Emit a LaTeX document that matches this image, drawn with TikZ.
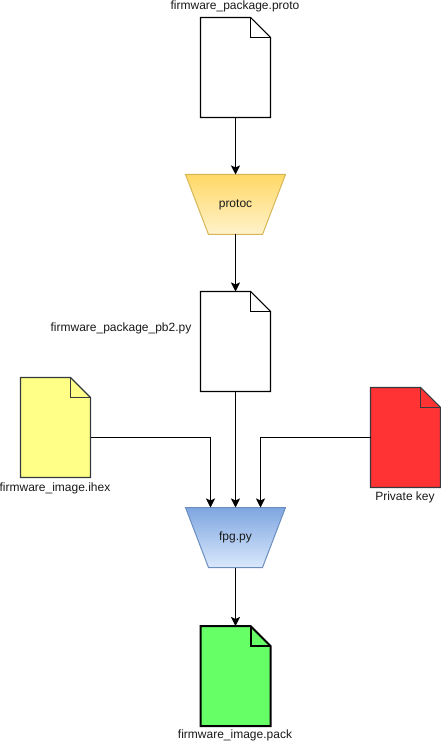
\documentclass[tikz,border=0pt]{standalone}
\usepackage{fontspec}
\setmainfont{Liberation Sans}
\usetikzlibrary{arrows.meta,calc}
\definecolor{inkc}{HTML}{1A1A1A}
\definecolor{ydoc}{HTML}{FFFF88}
\definecolor{ystroke}{HTML}{36393D}
\definecolor{rdoc}{HTML}{FF3333}
\definecolor{gdoc}{HTML}{66FF66}
\definecolor{ptop}{HTML}{FFD966}
\definecolor{pbot}{HTML}{FFF2CC}
\definecolor{pline}{HTML}{D6B656}
\definecolor{btop}{HTML}{7EA6E0}
\definecolor{bbot}{HTML}{DAE8FC}
\definecolor{bline}{HTML}{6C8EBF}
\tikzset{
  px/.style={x=0.75pt,y=-0.75pt},
  docbox/.style={inner sep=0pt,outer sep=0pt,minimum width=52.5pt,minimum height=75pt},
  docline/.style={line width=0.75pt,line join=miter},
  trapbox/.style={inner sep=0pt,outer sep=0pt,minimum width=75pt,minimum height=45pt,font=\fontsize{9}{11}\selectfont,text=inkc},
  captext/.style={inner sep=0pt,font=\fontsize{9}{11}\selectfont,text=inkc},
  conn/.style={line width=0.85pt,-{Stealth[length=6.8pt,width=6.8pt,inset=1.5pt]}},
}
% name, centre x, centre y, fill, stroke, line width
\newcommand{\docshape}[6]{%
  \node[docbox] (#1) at (#2,#3) {};
  \draw[docline,fill=#4,draw=#5,line width=#6]
    (#1.north west) -- ++(50,0) -- ($(#1.north east)+(0,20)$) -- (#1.south east) -- (#1.south west) -- cycle;
  \draw[docline,draw=#5,line width=#6]
    ($(#1.north west)+(50,0)$) -- ++(0,20) -- ++(20,0);
}
% name, centre x, centre y, top colour, bottom colour, stroke, text
\newcommand{\trapshape}[7]{%
  \draw[line width=0.75pt,draw=#6,top color=#4,bottom color=#5]
    ($(#2,#3)+(-50,-30)$) -- ($(#2,#3)+(50,-30)$) -- ($(#2,#3)+(27,30)$) -- ($(#2,#3)+(-27,30)$) -- cycle;
  \node[trapbox] (#1) at (#2,#3) {#7};
}
\begin{document}
\begin{tikzpicture}[px]
\useasboundingbox[fill=white] (0,0) rectangle (441,741);
\docshape{proto}{235.5}{67.5}{white}{black}{0.8pt}
\trapshape{protoc}{235.5}{204.5}{ptop}{pbot}{pline}{protoc}
\docshape{pbtwo}{235.5}{341.5}{white}{black}{0.8pt}
\docshape{ihex}{55.5}{427.5}{ydoc}{ystroke}{0.8pt}
\docshape{key}{405.5}{437.5}{rdoc}{ystroke}{0.8pt}
\trapshape{fpg}{235.5}{537.5}{btop}{bbot}{bline}{fpg.py}
\docshape{pack}{235.5}{676}{gdoc}{black}{1.5pt}

\node[captext] (lproto) at (235,6.5) {firmware\_package.proto};
\node[captext] (lpb) at (121,328.5) {firmware\_package\_pb2.py};
\node[captext] (lihex) at (55,488) {firmware\_image.ihex};
\node[captext] (lkey) at (405,497) {Private key};
\node[captext] (lpack) at (235,735) {firmware\_image.pack};

\coordinate (inL) at ($(fpg.north)+(-25,0)$);
\coordinate (inR) at ($(fpg.north)+(25,0)$);
\coordinate (fromL) at ($(ihex.east)+(0,10)$);
\draw[conn] (proto.south) -- (protoc.north);
\draw[conn] (protoc.south) -- (pbtwo.north);
\draw[conn] (pbtwo.south) -- (fpg.north);
\draw[conn] (fromL) -| (inL);
\draw[conn] (key.west) -| (inR);
\draw[conn] (fpg.south) -- (pack.north);
\end{tikzpicture}
\end{document}
